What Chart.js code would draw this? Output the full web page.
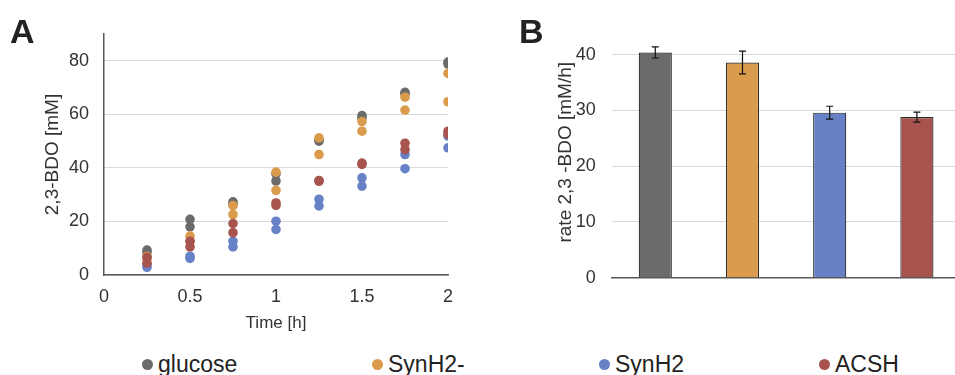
<!DOCTYPE html>
<html>
<head>
<meta charset="utf-8">
<script src="https://cdn.jsdelivr.net/npm/chart.js@4.4.0/dist/chart.umd.min.js"></script>
<style>
  html, body { margin: 0; padding: 0; background: #fff; overflow: hidden; width: 955px; height: 375px; }
  body { position: relative; font-family: "Liberation Sans", Arial, sans-serif; color: #222; }
  canvas { position: absolute; top: 0; }
  #chartA { left: 0; }
  #chartB { left: 480px; }
  .panel { position: absolute; font-weight: bold; font-size: 34px; line-height: 1; }
  .legend-item { position: absolute; top: 350px; font-size: 23px; line-height: 28px; white-space: nowrap; }
  .legend-item .dot { position: absolute; left: -16px; top: 9px; width: 11px; height: 11px; border-radius: 50%; }
</style>
</head>
<body>
<canvas id="chartA" width="470" height="340"></canvas>
<canvas id="chartB" width="482" height="340"></canvas>
<div class="panel" style="left:10px; top:14px;">A</div>
<div class="panel" style="left:519px; top:14px;">B</div>
<div id="legend"></div>

<script>
// --- dữ liệu ---
const seriesNames = ['glucose', 'SynH2-', 'SynH2', 'ACSH'];
const seriesColors = ['#6b6b6b', '#da9b4c', '#6781c6', '#a7544f'];
const legendX = [158, 388, 615, 835];

// Panel A: thời gian (h) và 2 lần lặp cho mỗi điều kiện
const timePoints = [0.25, 0.5, 0.75, 1, 1.25, 1.5, 1.75, 2];
const glucoseRep1 = [9.3, 20.8, 27.3, 37.8, 50.0, 59.5, 68.2, 79.5];
const glucoseRep2 = [8.4, 18.0, 26.5, 35.1, 50.5, 58.6, 67.6, 78.8];
const synH2minusRep1 = [7.0, 14.5, 25.9, 38.4, 51.2, 57.3, 66.4, 75.3];
const synH2minusRep2 = [6.0, 12.5, 22.6, 31.6, 45.0, 53.7, 61.6, 64.7];
const synH2Rep1 = [4.0, 7.0, 12.6, 20.1, 28.3, 36.3, 45.0, 51.9];
const synH2Rep2 = [2.9, 6.2, 10.5, 17.0, 25.8, 33.2, 39.7, 47.5];
const acshRep1 = [6.6, 12.6, 19.2, 26.9, 35.3, 41.8, 49.2, 53.7];
const acshRep2 = [4.4, 10.5, 15.8, 26.0, 35.0, 41.3, 46.8, 52.6];

// Panel B: tốc độ trung bình và sai số
const rateValues = [40.4, 38.6, 29.6, 28.8];
const rateErrors = [1.0, 2.05, 1.15, 0.9];

const fontFamily = '"Liberation Sans", Arial, sans-serif';
const tickColor = '#333';
const gridColor = '#d9d9d9';
const axisColor = '#595959';

function toPoints(rep1, rep2) {
    let pts = [];
    timePoints.forEach((t, i) => {
        pts.push({ x: t, y: rep1[i] });
        pts.push({ x: t, y: rep2[i] });
    });
    return pts;
}

// --- Chú thích (legend) chung ---
function initLegend() {
    const box = document.getElementById('legend');
    seriesNames.forEach((name, i) => {
        let item = document.createElement('div');
        item.className = 'legend-item';
        item.style.left = legendX[i] + 'px';
        item.innerHTML = `<span class="dot" style="background:${seriesColors[i]}"></span>${name}`;
        box.appendChild(item);
    });
}

// --- Biểu đồ A (scatter) ---
function drawChartA() {
    const reps = [
        [glucoseRep1, glucoseRep2],
        [synH2minusRep1, synH2minusRep2],
        [synH2Rep1, synH2Rep2],
        [acshRep1, acshRep2]
    ];
    new Chart(document.getElementById('chartA'), {
        type: 'scatter',
        data: {
            datasets: reps.map((r, i) => ({
                label: seriesNames[i],
                data: toPoints(r[0], r[1]),
                backgroundColor: seriesColors[i],
                borderWidth: 0,
                pointRadius: 4.8,
                order: 4 - i
            }))
        },
        options: {
            responsive: false,
            animation: false,
            events: [],
            layout: { padding: { top: 34, right: 22, left: 35, bottom: 0 } },
            plugins: { legend: { display: false }, tooltip: { enabled: false } },
            scales: {
                x: {
                    type: 'linear', min: 0, max: 2,
                    ticks: {
                        stepSize: 0.5, padding: 11, color: tickColor,
                        font: { family: fontFamily, size: 18 },
                        callback: v => String(v)
                    },
                    grid: { color: 'rgba(0,0,0,0)', drawTicks: false },
                    border: { display: true, color: axisColor, width: 1.5 },
                    title: { display: true, text: 'Time [h]', color: tickColor, font: { family: fontFamily, size: 17 }, padding: { top: 4, bottom: 6 } },
                    afterFit: s => { s.height = 65; }
                },
                y: {
                    min: 0, max: 90,
                    afterBuildTicks: s => { s.ticks = s.ticks.filter(t => t.value % 20 === 0); },
                    ticks: { stepSize: 20, padding: 15, color: tickColor, font: { family: fontFamily, size: 18 } },
                    grid: { color: gridColor, drawTicks: false },
                    border: { display: true, color: axisColor, width: 1.5 },
                    title: { display: true, text: '2,3-BDO [mM]', color: tickColor, font: { family: fontFamily, size: 19 }, padding: { top: 6, bottom: 0 } },
                    afterFit: s => { s.width = 69; }
                }
            }
        }
    });
}

// --- Biểu đồ B (cột + thanh sai số) ---
const errorBarPlugin = {
    id: 'errorBars',
    afterDatasetsDraw(chart) {
        const ctx = chart.ctx;
        const meta = chart.getDatasetMeta(0);
        const yScale = chart.scales.y;
        ctx.save();
        ctx.strokeStyle = '#111';
        ctx.lineWidth = 1.2;
        meta.data.forEach((bar, i) => {
            let x = bar.x;
            let yTop = yScale.getPixelForValue(rateValues[i] + rateErrors[i]);
            let yBot = yScale.getPixelForValue(rateValues[i] - rateErrors[i]);
            ctx.beginPath();
            ctx.moveTo(x, yTop); ctx.lineTo(x, yBot);
            ctx.moveTo(x - 3.5, yTop); ctx.lineTo(x + 3.5, yTop);
            ctx.moveTo(x - 3.5, yBot); ctx.lineTo(x + 3.5, yBot);
            ctx.stroke();
        });
        ctx.restore();
    }
};

function drawChartB() {
    new Chart(document.getElementById('chartB'), {
        type: 'bar',
        data: {
            labels: seriesNames,
            datasets: [{
                data: rateValues,
                backgroundColor: seriesColors,
                borderColor: '#2b2b2b',
                borderWidth: 1.2,
                barPercentage: 0.38,
                categoryPercentage: 1
            }]
        },
        options: {
            responsive: false,
            animation: false,
            events: [],
            layout: { padding: { top: 26, right: 1.5, left: 68, bottom: 0 } },
            plugins: { legend: { display: false }, tooltip: { enabled: false } },
            scales: {
                x: {
                    ticks: { display: false },
                    grid: { display: false, drawTicks: false },
                    border: { display: true, color: axisColor, width: 1.5 },
                    afterFit: s => { s.height = 62.3; }
                },
                y: {
                    min: 0, max: 45,
                    afterBuildTicks: s => { s.ticks = s.ticks.filter(t => t.value % 10 === 0); },
                    ticks: { stepSize: 10, padding: 16, color: tickColor, font: { family: fontFamily, size: 18 } },
                    grid: { color: gridColor, drawTicks: false },
                    border: { display: false },
                    title: { display: true, text: 'rate 2,3 -BDO [mM/h]', color: tickColor, font: { family: fontFamily, size: 19 }, padding: { top: 6, bottom: 0 } },
                    afterFit: s => { s.width = 63.7; }
                }
            }
        },
        plugins: [errorBarPlugin]
    });
}

document.addEventListener('DOMContentLoaded', () => {
    initLegend();
    drawChartA();
    drawChartB();
});
</script>
</body>
</html>
